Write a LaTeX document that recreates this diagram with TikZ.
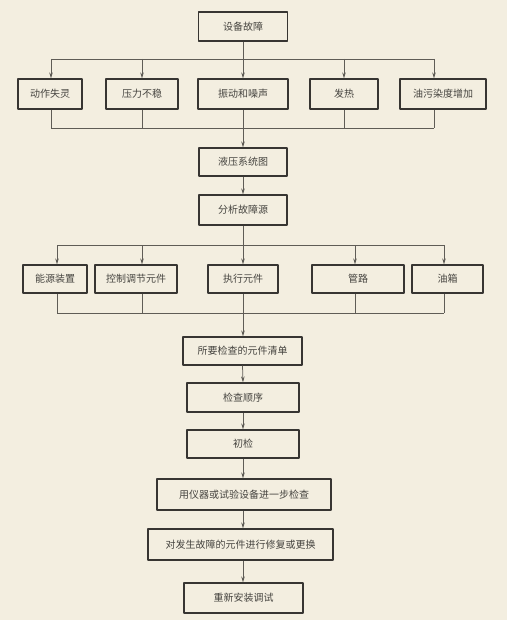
\documentclass[tikz,border=0pt]{standalone}
\usepackage{fontspec}
\newfontfamily\cjk{Noto Sans CJK SC}
\usetikzlibrary{arrows.meta}

\definecolor{paper}{RGB}{243,238,224}
\definecolor{wire}{RGB}{95,92,86}
\definecolor{boxline}{RGB}{55,53,50}
\definecolor{ink}{RGB}{70,68,64}

\begin{document}
\begin{tikzpicture}[x=1pt, y=-1pt, line join=round]

  % Styles
  \tikzset{
    box/.style={draw=boxline, line width=1.2pt, fill=paper, text=ink,
      font=\cjk\fontsize{10}{12}\selectfont, inner sep=0pt, minimum height=29},
    link/.style={draw=wire, line width=0.75pt},
    flow/.style={link, -{Stealth[length=6pt, width=3.5pt]}},
  }

  % Paper
  \fill[paper] (0,0) rectangle (507,620);

  % Bus levels
  \coordinate (busA) at (0,59);
  \coordinate (busB) at (0,128);
  \coordinate (busC) at (0,245);
  \coordinate (busD) at (0,313);

  % Main chain
  \node[box, minimum width=89] (fault) at (243,26.5) {设备故障};
  \node[box, minimum width=90, minimum height=30] (noise) at (243,94) {振动和噪声};
  \node[box, minimum width=88, minimum height=28] (scheme) at (243,162) {液压系统图};
  \node[box, minimum width=88, minimum height=30] (source) at (243,210) {分析故障源};
  \node[box, minimum width=70, minimum height=28] (actuator) at (243,279) {执行元件};
  \node[box, minimum width=119, minimum height=28] (list) at (242.5,351) {所要检查的元件清单};
  \node[box, minimum width=112] (order) at (243,397.5) {检查顺序};
  \node[box, minimum width=112, minimum height=28] (first) at (243,444) {初检};
  \node[box, minimum width=174, minimum height=31] (instr) at (244,494.5) {用仪器或试验设备进一步检查};
  \node[box, minimum width=185, minimum height=31] (repair) at (240.5,544.5) {对发生故障的元件进行修复或更换};
  \node[box, minimum width=119, minimum height=30] (retest) at (243.5,598) {重新安装调试};

  \draw[flow] (fault.south) -- (noise.north);
  \draw[flow] (noise.south) -- (scheme.north);
  \draw[flow] (scheme.south) -- (source.north);
  \draw[flow] (source.south) -- (actuator.north);
  \draw[flow] (actuator.south) -- ([xshift=0.5]list.north);
  \draw[flow] (list.south) -- (order.north);
  \draw[flow] (order.south) -- (first.north);
  \draw[flow] (first.south) -- ([xshift=-1]instr.north);
  \draw[flow] ([xshift=-1]instr.south) -- ([xshift=2.5]repair.north);
  \draw[flow] ([xshift=2.5]repair.south) -- ([xshift=-0.5]retest.north);

  % Fault symptoms
  \foreach \n/\x/\w/\dx/\t in {sa/50/64/1/动作失灵, sb/142/72/0/压力不稳,
      sd/344/68/0/发热, se/443/86/-9/油污染度增加} {
    \node[box, minimum width=\w, minimum height=30] (\n) at (\x,94) {\t};
    \draw[flow] ([xshift=\dx]\n.north |- busA) -- ([xshift=\dx]\n.north);
    \draw[link] ([xshift=\dx]\n.south) -- ([xshift=\dx]\n.south |- busB);
  }
  \draw[link] ([xshift=1]sa.north |- busA) -- ([xshift=-9]se.north |- busA);
  \draw[link] ([xshift=1]sa.south |- busB) -- ([xshift=-9]se.south |- busB);

  % Fault sources
  \foreach \n/\x/\w/\dx/\t in {pa/55/64/2/能源装置, pb/136/82/6/控制调节元件,
      pd/358/92/-3/管路, pe/447.5/71/-3.5/油箱} {
    \node[box, minimum width=\w, minimum height=28] (\n) at (\x,279) {\t};
    \draw[flow] ([xshift=\dx]\n.north |- busC) -- ([xshift=\dx]\n.north);
    \draw[link] ([xshift=\dx]\n.south) -- ([xshift=\dx]\n.south |- busD);
  }
  \draw[link] ([xshift=2]pa.north |- busC) -- ([xshift=-3.5]pe.north |- busC);
  \draw[link] ([xshift=2]pa.south |- busD) -- ([xshift=-3.5]pe.south |- busD);

\end{tikzpicture}
\end{document}
